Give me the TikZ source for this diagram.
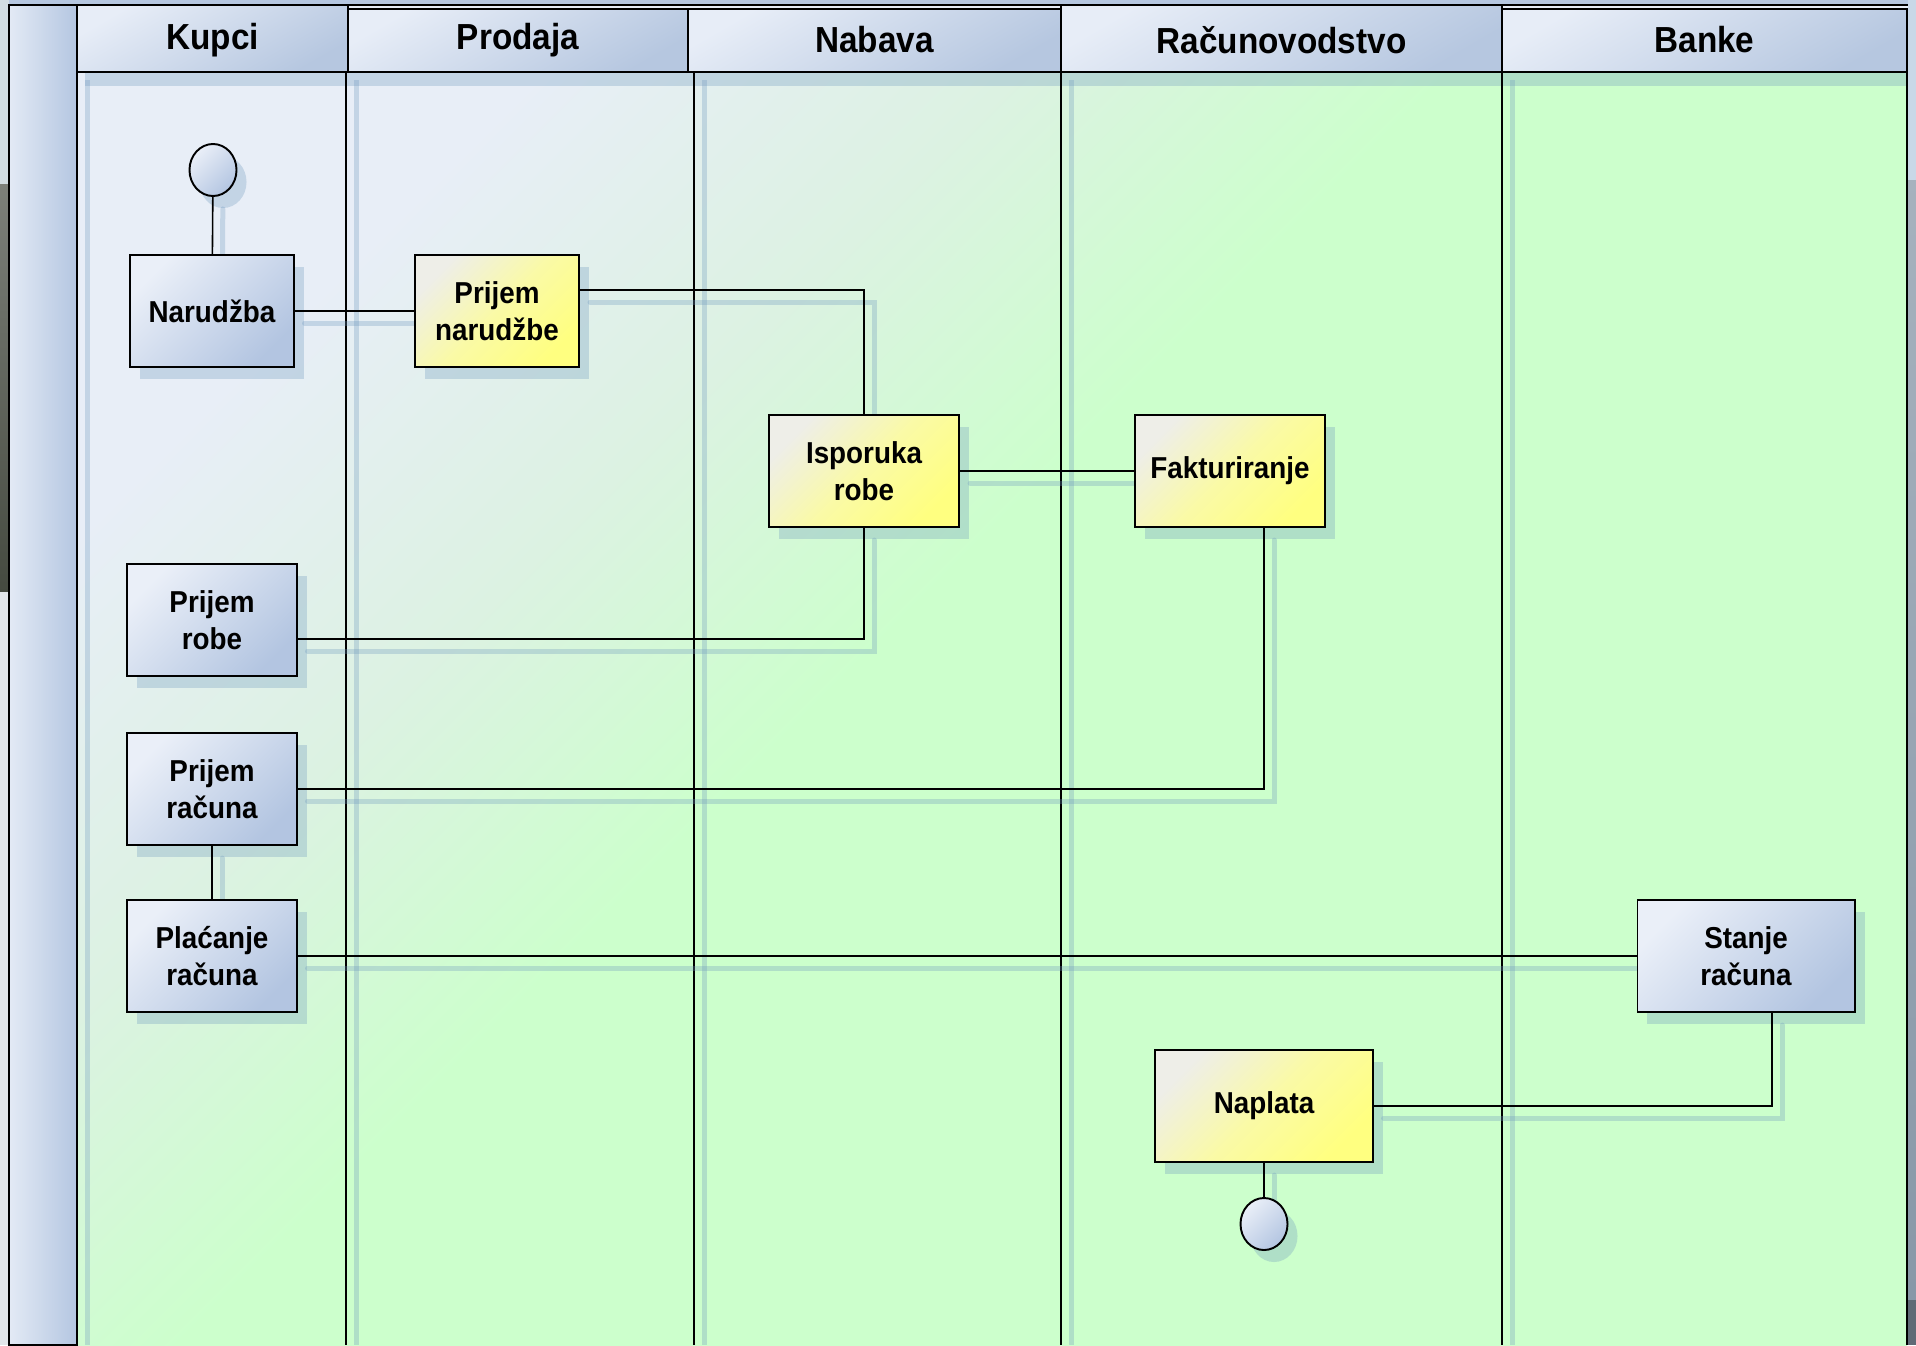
\documentclass[tikz,border=0pt]{standalone}
\usepackage{fontspec}
\setmainfont{Liberation Sans}[FakeStretch=0.92]
\usetikzlibrary{shapes.geometric,shadows}
\definecolor{boxlight}{HTML}{EAEFF8}
\definecolor{boxdark}{HTML}{B3C5E1}
\definecolor{ylight}{HTML}{EEEEE8}
\definecolor{ymid}{HTML}{FAFAA6}
\definecolor{ydark}{HTML}{FFFF80}
\definecolor{headlight}{HTML}{E7EDF7}
\definecolor{headdark}{HTML}{B6C7E0}
\definecolor{striplight}{HTML}{E3EAF5}
\definecolor{stripdark}{HTML}{B4C6E1}
\definecolor{lanetop}{HTML}{E8EEF7}
\definecolor{lanemid}{HTML}{DCF2E2}
\definecolor{lanegreen}{HTML}{CCFFCC}
\definecolor{shadowblue}{HTML}{6E98BE}
\definecolor{edgelight}{HTML}{D2DDE2}
\definecolor{edgedark}{HTML}{454A40}
\definecolor{edgegray}{HTML}{E2E6EA}
\definecolor{rimlight}{HTML}{C9D8E8}
\definecolor{rimgray}{HTML}{8898A8}
\pgfdeclarelayer{lanes}
\pgfdeclarelayer{linkshadows}
\pgfsetlayers{lanes,linkshadows,main}
\pgfdeclareverticalshading{lanefade}{100bp}{color(0bp)=(lanegreen); color(54bp)=(lanegreen);
  color(64bp)=(lanemid); color(75bp)=(lanetop); color(100bp)=(lanetop)}
\tikzset{
  softshadow/.style={drop shadow={shadow xshift=0.1cm,shadow yshift=-0.12cm,fill=shadowblue,opacity=0.3}},
  task/.style={rectangle,draw=black,line width=0.55pt,minimum height=1.12cm,inner sep=0pt,align=center,
               font=\bfseries\fontsize{8.6}{10.6}\selectfont,softshadow},
  bluetask/.style={task,top color=boxlight,bottom color=boxdark,shading angle=45},
  yellowtask/.style={task,top color=ylight,bottom color=ydark,middle color=ymid,shading angle=45},
  terminal/.style={ellipse,draw=black,line width=0.55pt,minimum width=0.47cm,minimum height=0.52cm,inner sep=0pt,
                   top color=boxlight,bottom color=boxdark,shading angle=45,softshadow},
  lanehead/.style={draw=black,line width=0.6pt,top color=headlight,bottom color=headdark,shading angle=30},
  headtext/.style={font=\bfseries\fontsize{10.3}{12}\selectfont,inner sep=0pt},
  lanerule/.style={draw=black,line width=0.45pt},
  laneshadow/.style={fill=shadowblue,opacity=0.3},
  flow/.style={draw=black,line width=0.45pt},
  flowshadow/.style={draw=shadowblue,opacity=0.3,line width=0.05cm,line cap=round,
                     transform canvas={shift={(0.1cm,-0.12cm)}}},
}
\newcommand\flowlink[1]{%
  \begin{pgfonlayer}{linkshadows}\draw[flowshadow] #1;\end{pgfonlayer}
  \draw[flow] #1;}

\begin{document}
\begin{tikzpicture}[x=0.01cm,y=-0.01cm]
  \useasboundingbox (0,0) rectangle (1916,1345);
  \begin{pgfonlayer}{lanes}
    % window edges
    \fill[white] (0,0) rectangle (1916,1345);
    \fill[edgelight] (0,0) rectangle (9,184);
    \shade[top color=edgedark!70,bottom color=edgedark] (0,184) rectangle (9,592);
    \fill[edgegray] (0,592) rectangle (9,1345);
    \fill[rimlight] (1908,0) rectangle (1916,180);
    \shade[top color=rimgray!75,bottom color=rimgray] (1908,180) rectangle (1916,1300);
    \fill[rimgray!70!black] (1908,1300) rectangle (1916,1345);
    \fill[headdark] (9,0) rectangle (1908,5);
    \fill[headlight] (77,5) rectangle (1908,10);
    \draw[lanerule] (9,5) -- (1908,5);
    % pool body and lanes
    \shade[shading=lanefade,shading angle=45] (77,72) rectangle (1907,1345);
    \shade[left color=striplight,right color=stripdark,draw=black,line width=0.6pt] (9,5) rectangle (77,1345);
    \fill[laneshadow] (85,72) rectangle (1907,86);
    \foreach \x in {77,346,694,1061,1502}{\fill[laneshadow] ({\x+8},80) rectangle ({\x+13},1345);}
    \foreach \x in {77,346,694,1061,1502,1907}{\draw[lanerule] (\x,72) -- (\x,1345);}
    \foreach \i/\xa/\xb/\ya/\lab in {1/77/348/5/Kupci,2/348/688/9/Prodaja,3/688/1061/9/Nabava,
                                     4/1061/1502/5/Računovodstvo,5/1502/1907/9/Banke}{
      \shade[lanehead] (\xa,\ya) rectangle (\xb,72);
      \node[headtext] (h\i) at ({(\xa+\xb)/2},40) {\lab};
    }
  \end{pgfonlayer}

  % process steps
  \node[terminal] (start) at (213,170) {};
  \node[bluetask,minimum width=1.63cm] (nar) at (212,311) {Narudžba};
  \node[yellowtask,minimum width=1.64cm] (prn) at (497,311) {Prijem\\narudžbe};
  \node[yellowtask,minimum width=1.90cm] (isp) at (864,471) {Isporuka\\robe};
  \node[yellowtask,minimum width=1.90cm] (fak) at (1230,471) {Fakturiranje};
  \node[bluetask,minimum width=1.69cm] (pro) at (212,620) {Prijem\\robe};
  \node[bluetask,minimum width=1.69cm] (prr) at (212,789) {Prijem\\računa};
  \node[bluetask,minimum width=1.69cm] (pla) at (212,956) {Plaćanje\\računa};
  \node[bluetask,minimum width=2.17cm] (sta) at (1746,956) {Stanje\\računa};
  \node[yellowtask,minimum width=2.17cm] (nap) at (1264,1106) {Naplata};
  \node[terminal] (end) at (1264,1224) {};

  % links
  \flowlink{(start) -- (nar)}
  \flowlink{(nar) -- (prn)}
  \flowlink{([yshift=0.21cm]prn.east) -| (isp)}
  \flowlink{(isp) -- (fak)}
  \flowlink{(isp) |- ([yshift=-0.19cm]pro.east)}
  \flowlink{(fak.south -| nap) |- (prr)}
  \flowlink{(prr) -- (pla)}
  \flowlink{(pla) -- (sta)}
  \flowlink{([xshift=0.26cm]sta.south) |- (nap)}
  \flowlink{(nap) -- (end)}
\end{tikzpicture}
\end{document}
